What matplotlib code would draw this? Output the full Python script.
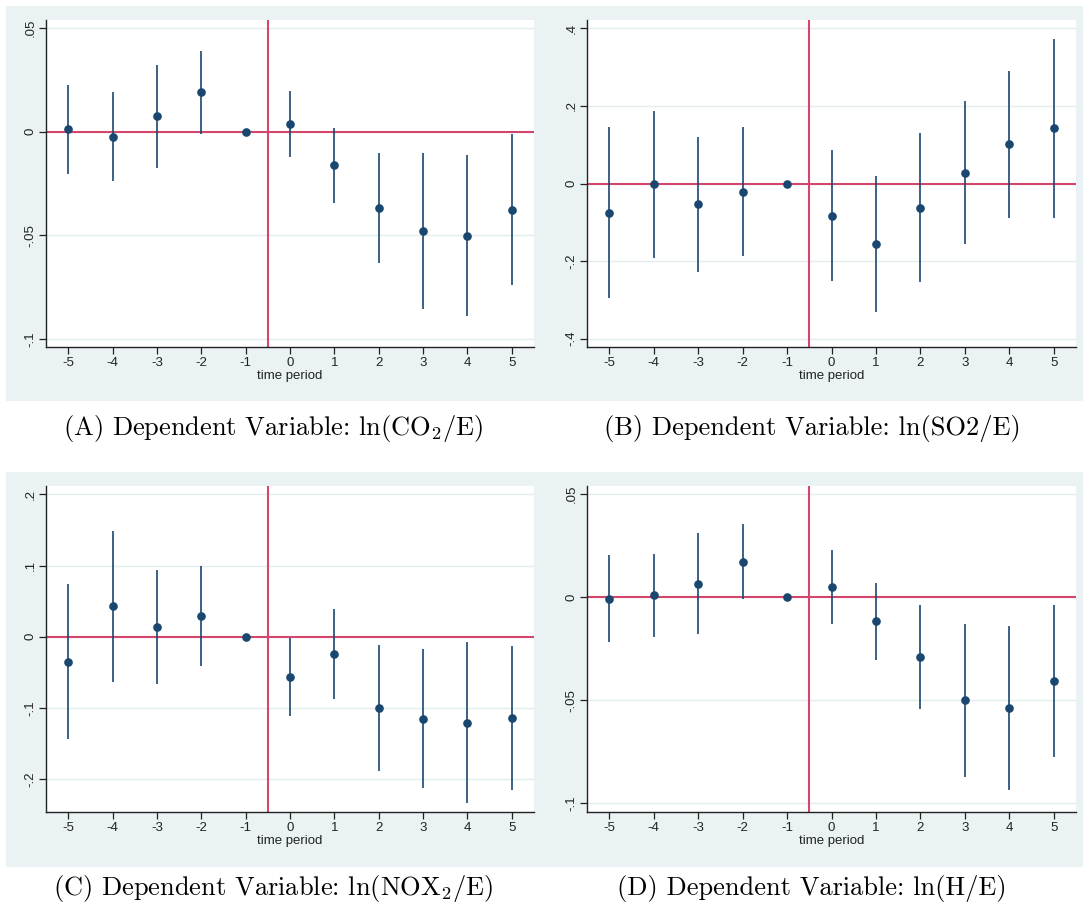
import numpy as np
import matplotlib
matplotlib.use("Agg")
import matplotlib.pyplot as plt
from matplotlib.patches import Rectangle
from matplotlib.ticker import FixedLocator, FixedFormatter

plt.rcParams['font.family'] = ['Liberation Sans', 'DejaVu Sans']
plt.rcParams['mathtext.fontset'] = 'cm'

periods = [-5, -4, -3, -2, -1, 0, 1, 2, 3, 4, 5]
xtick_labels = ["-5", "-4", "-3", "-2", "-1", "0", "1", "2", "3", "4", "5"]
nan = float('nan')

# Panel A: ln(CO2/E)
coef_a = [0.0013, -0.0024, 0.0074, 0.0190, 0.0, 0.0037, -0.0161, -0.0369, -0.0481, -0.0502, -0.0376]
hi_a = [0.0227, 0.0192, 0.0324, 0.0392, nan, 0.0198, 0.0019, -0.0102, -0.0105, -0.0111, -0.0013]
lo_a = [-0.0202, -0.0239, -0.0177, -0.0013, nan, -0.0124, -0.0342, -0.0635, -0.0858, -0.0890, -0.0740]
yt_a = [-0.1, -0.05, 0.0, 0.05]
ytl_a = ["-.1", "-.05", "0", ".05"]

# Panel B: ln(SO2/E)
coef_b = [-0.0748, -0.0017, -0.0530, -0.0215, 0.0, -0.0834, -0.1566, -0.0620, 0.0275, 0.1006, 0.1437]
hi_b = [0.145, 0.188, 0.120, 0.145, nan, 0.086, 0.0198, 0.129, 0.2125, 0.2907, 0.3733]
lo_b = [-0.294, -0.192, -0.228, -0.1875, nan, -0.252, -0.332, -0.253, -0.1566, -0.0895, -0.0877]
yt_b = [-0.4, -0.2, 0.0, 0.2, 0.4]
ytl_b = ["-.4", "-.2", "0", ".2", ".4"]

# Panel C: ln(NOX2/E)
coef_c = [-0.0356, 0.0430, 0.0136, 0.0290, 0.0, -0.0566, -0.0239, -0.1006, -0.1150, -0.1210, -0.1146]
hi_c = [0.0735, 0.149, 0.094, 0.0997, nan, -0.0023, 0.0388, -0.0122, -0.0173, -0.0075, -0.0126]
lo_c = [-0.144, -0.063, -0.066, -0.0416, nan, -0.111, -0.087, -0.189, -0.212, -0.234, -0.216]
yt_c = [-0.2, -0.1, 0.0, 0.1, 0.2]
ytl_c = ["-.2", "-.1", "0", ".1", ".2"]

# Panel D: ln(H/E)
coef_d = [-0.0006, 0.0010, 0.0066, 0.0173, 0.0, 0.0050, -0.0116, -0.0289, -0.0500, -0.0538, -0.0406]
hi_d = [0.0207, 0.0212, 0.0312, 0.0356, nan, 0.0228, 0.0070, -0.0036, -0.0131, -0.0137, -0.0036]
lo_d = [-0.0218, -0.0192, -0.0179, -0.0010, nan, -0.0129, -0.0302, -0.0541, -0.0870, -0.0937, -0.0776]
yt_d = [-0.1, -0.05, 0.0, 0.05]
ytl_d = ["-.1", "-.05", "0", ".05"]

captions = [r"(A) Dependent Variable: ln(CO$_2$/E)",
            r"(B) Dependent Variable: ln(SO2/E)",
            r"(C) Dependent Variable: ln(NOX$_2$/E)",
            r"(D) Dependent Variable: ln(H/E)"]

W, H = 1083, 909
fig = plt.figure(figsize=(W / 100, H / 100), dpi=100)
fig.patch.set_facecolor('white')

BG = '#EAF2F3'
NAVY = '#1A476F'
RED = '#D4466C'

def fx(px):
    return px / W

def fy(py):
    return 1 - py / H

# backgrounds (rows)
for (y0, y1) in [(6, 401), (472, 867)]:
    fig.patches.append(Rectangle((fx(6), fy(y1)), fx(1083) - fx(6), fy(y0) - fy(y1),
                                 transform=fig.transFigure, facecolor=BG, edgecolor='none', zorder=-10))

panels = [
    (coef_a, lo_a, hi_a, yt_a, ytl_a, (-0.104, 0.054), (46, 534, 20, 347), 273, 428),
    (coef_b, lo_b, hi_b, yt_b, ytl_b, (-0.4215, 0.4215), (587, 1076, 20, 347), 812, 428),
    (coef_c, lo_c, hi_c, yt_c, ytl_c, (-0.2463, 0.2117), (46, 534, 486, 812), 273, 888),
    (coef_d, lo_d, hi_d, yt_d, ytl_d, (-0.1042, 0.054), (587, 1076, 486, 812), 812, 888),
]

for i, (coef, lo, hi, yt, ytl, ylim, box, cx, cy) in enumerate(panels):
    l, r, t, b = box
    ax = fig.add_axes([fx(l), fy(b), fx(r) - fx(l), fy(t) - fy(b)], zorder=1)
    ax.set_facecolor('white')
    ax.set_xlim(-5.5, 5.5)
    ax.set_ylim(*ylim)
    for yv in yt:
        ax.axhline(yv, color='#E4EDEE', lw=1.0, zorder=1)
    ax.axhline(0, color=RED, lw=1.5, zorder=2)
    ax.axvline(-0.5, color=RED, lw=1.5, zorder=2)
    ax.vlines(periods, lo, hi, color=NAVY, lw=1.2, zorder=3)
    ax.plot(periods, coef, 'o', color=NAVY, ms=5.2, zorder=4)
    for s in ['top', 'right']:
        ax.spines[s].set_visible(False)
    for s in ['left', 'bottom']:
        ax.spines[s].set_color('#222222')
        ax.spines[s].set_linewidth(1.0)
    ax.xaxis.set_major_locator(FixedLocator(periods))
    ax.xaxis.set_major_formatter(FixedFormatter(xtick_labels))
    ax.yaxis.set_major_locator(FixedLocator(yt))
    ax.yaxis.set_major_formatter(FixedFormatter(ytl))
    ax.tick_params(axis='both', direction='out', length=5, width=0.9, color='#222222',
                   labelsize=9.5, labelcolor='#222222', pad=2)
    ax.tick_params(axis='y', labelrotation=90)
    for lab in ax.get_yticklabels():
        lab.set_va('center')
    ax.set_xlabel('time period', fontsize=9.5, color='#222222', labelpad=1)
    fig.text(fx(cx), fy(cy), captions[i], family='cmr10', fontsize=19,
             ha='center', va='center', color='black')

fig.savefig('out.png', dpi=100)
